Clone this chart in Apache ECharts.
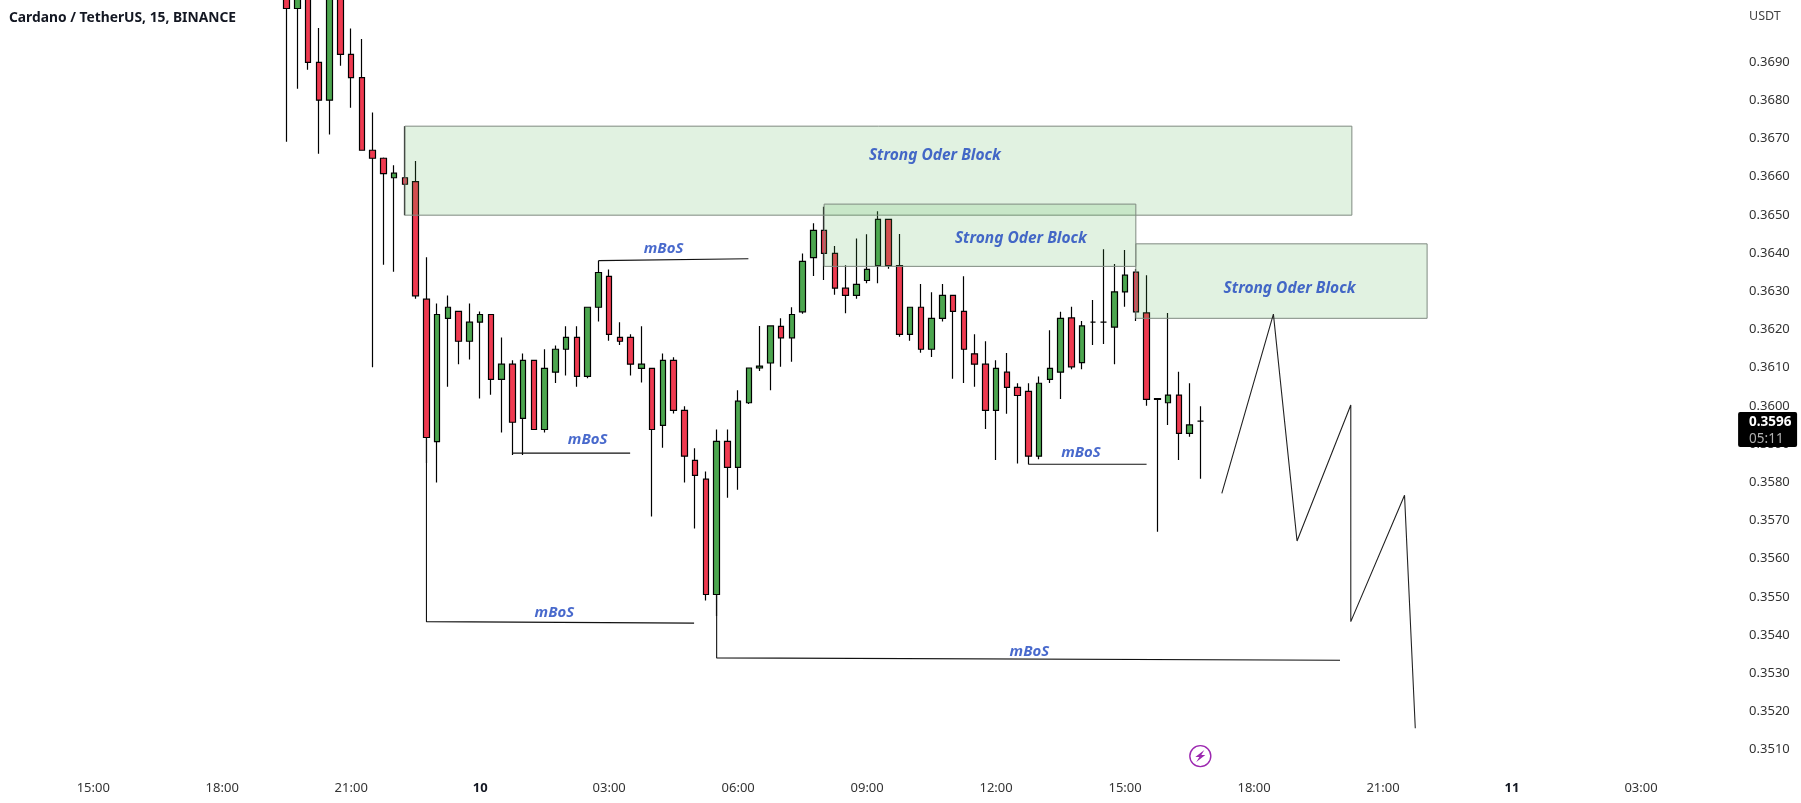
<!DOCTYPE html>
<html><head><meta charset="utf-8">
<style>html,body{margin:0;padding:0;background:#fff}#c{width:1801px;height:803px}</style>
<script src="https://cdn.jsdelivr.net/npm/echarts@6/dist/echarts.min.js"></script>
</head><body><div id="c"></div>
<script>
// bar offset 0 is the first visible candle; 12 bars = 3 hours
const timeTickLabels = ['15:00','18:00','21:00','10','03:00','06:00','09:00','12:00','15:00','18:00','21:00','11','03:00'];
const priceTicks = [0.351,0.352,0.353,0.354,0.355,0.356,0.357,0.358,0.359,0.360,0.361,0.362,0.363,0.364,0.365,0.366,0.367,0.368,0.369];
const opens = [0.37120,0.37040,0.37150,0.36899,0.36800,0.37100,0.36920,0.36859,0.36669,0.36648,0.36597,0.36597,0.36587,0.36279,0.35906,0.36229,0.36247,0.36169,0.36219,0.36239,0.36069,0.36109,0.35967,0.36119,0.35938,0.36088,0.36148,0.36179,0.36077,0.36258,0.36339,0.36179,0.36179,0.36098,0.36098,0.35949,0.36119,0.35988,0.35857,0.35808,0.35506,0.35907,0.35839,0.36008,0.36099,0.36112,0.36208,0.36178,0.36246,0.36388,0.36459,0.36399,0.36308,0.36289,0.36328,0.36367,0.36488,0.36367,0.36187,0.36258,0.36148,0.36229,0.36289,0.36247,0.36136,0.36109,0.35988,0.36088,0.36048,0.36038,0.35868,0.36069,0.36088,0.36230,0.36113,0.36219,0.36219,0.36206,0.36298,0.36350,0.36243,0.36019,0.36008,0.36028,0.35928,0.35960];
const closes = [0.37040,0.37100,0.36899,0.36800,0.37120,0.36920,0.36859,0.36669,0.36648,0.36608,0.36609,0.36580,0.36288,0.35917,0.36239,0.36258,0.36169,0.36219,0.36239,0.36069,0.36109,0.35957,0.36119,0.35938,0.36098,0.36148,0.36179,0.36077,0.36258,0.36349,0.36187,0.36169,0.36109,0.36109,0.35938,0.36119,0.35988,0.35868,0.35818,0.35506,0.35907,0.35839,0.36012,0.36099,0.36104,0.36209,0.36178,0.36239,0.36378,0.36459,0.36399,0.36308,0.36289,0.36318,0.36357,0.36488,0.36367,0.36187,0.36258,0.36148,0.36229,0.36289,0.36247,0.36148,0.36109,0.35988,0.36098,0.36048,0.36027,0.35868,0.36059,0.36098,0.36229,0.36102,0.36209,0.36219,0.36219,0.36298,0.36342,0.36246,0.36017,0.36017,0.36028,0.35928,0.35950,0.35960];
const lows = [0.36691,0.36830,0.36880,0.36660,0.36710,0.36890,0.36780,0.36669,0.36101,0.36369,0.36351,0.36499,0.36280,0.35850,0.35799,0.36050,0.36109,0.36121,0.36019,0.36029,0.35930,0.35871,0.35871,0.35938,0.35930,0.36060,0.36079,0.36050,0.36072,0.36221,0.36170,0.36159,0.36079,0.36061,0.35710,0.35890,0.35980,0.35799,0.35679,0.35490,0.35450,0.35759,0.35780,0.36005,0.36091,0.36041,0.36102,0.36115,0.36241,0.36340,0.36329,0.36291,0.36242,0.36280,0.36321,0.36321,0.36359,0.36181,0.36170,0.36139,0.36128,0.36221,0.36071,0.36060,0.36050,0.35939,0.35858,0.35979,0.35849,0.35847,0.35860,0.36060,0.36018,0.36096,0.36096,0.36159,0.36162,0.36109,0.36259,0.36222,0.36000,0.35670,0.35950,0.35858,0.35919,0.35809];
const highs = [0.37150,0.37120,0.37200,0.36989,0.37150,0.37150,0.36988,0.36960,0.36768,0.36650,0.36630,0.36732,0.36641,0.36389,0.36268,0.36289,0.36247,0.36268,0.36247,0.36239,0.36179,0.36119,0.36137,0.36119,0.36148,0.36158,0.36208,0.36208,0.36258,0.36380,0.36357,0.36219,0.36187,0.36208,0.36098,0.36137,0.36127,0.35999,0.35889,0.35828,0.35938,0.35938,0.36041,0.36099,0.36209,0.36209,0.36229,0.36258,0.36399,0.36478,0.36521,0.36418,0.36368,0.36438,0.36449,0.36509,0.36488,0.36450,0.36258,0.36319,0.36297,0.36319,0.36289,0.36339,0.36187,0.36169,0.36119,0.36138,0.36059,0.36059,0.36077,0.36198,0.36246,0.36259,0.36222,0.36277,0.36410,0.36371,0.36408,0.36358,0.36342,0.36020,0.36243,0.36089,0.36059,0.35999];
// zones: [first bar, last bar, upper price, lower price]
const zones = [[11,99.1,0.36732,0.36499],[50,79,0.36528,0.36365],[79,106.1,0.36424,0.36229]];
const zoneLabels = [[60.3,0.36654,'Strong Oder Block'],[68.3,0.36437,'Strong Oder Block'],[93.3,0.36308,'Strong Oder Block']];
const mbosLabels = [[35.06,0.36410,'mBoS'],[28,0.35910,'mBoS'],[24.9,0.35459,'mBoS'],[73.9,0.35876,'mBoS'],[69.1,0.35355,'mBoS']];
const mbosLine1 = [[13,0.35917],[13,0.35435],[37.9,0.35431]];
const mbosLine2 = [[40,0.35506],[40,0.35340],[98,0.35334]];
const mbosLine3 = [[29,0.36380],[42.95,0.36385]];
const mbosLine4 = [[21,0.35876],[31.95,0.35876]];
const mbosLine5 = [[69,0.35847],[80,0.35847]];
const projection = [[87,0.35771],[91.8,0.36240],[94,0.35646],[99,0.36002],[99,0.35435],[104,0.35766],[105,0.35156]];
const lastBar = 85, lastPrice = 0.3596, countdown = '05:11';
const eventMark = [85, 0.35083];

const UP = '#4ca64f', DOWN = '#ef3a50', INK = '#000000';
const BAR0 = 26, BARS = 162;
const categories = new Array(BARS).fill('');
timeTickLabels.forEach((t, i) => { categories[8 + i * 12] = t; });
const candleData = new Array(BAR0).fill(['-','-','-','-']).concat(opens.map((o, i) => [o, closes[i], lows[i], highs[i]]));
const lineSeries = (data, color) => ({
  type:'line', xAxisIndex:1, data, showSymbol:false, symbol:'none', silent:true, z:4,
  lineStyle:{color:color||'#111111', width:1.1}, animation:false
});
const FONT = '"Noto Sans", sans-serif';
const chart = echarts.init(document.getElementById('c'), null, {width:1801, height:803, renderer:'canvas'});
chart.setOption({
  animation:false, backgroundColor:'#ffffff',
  title:[
    {text:'Cardano / TetherUS, 15, BINANCE', left:9, top:11, padding:0, textStyle:{fontFamily:FONT, fontSize:13.8, fontWeight:'bold', color:'#131722'}},
    {text:'USDT', left:1749, top:10, padding:0, textStyle:{fontFamily:FONT, fontSize:12.5, fontWeight:'normal', color:'#444'}}
  ],
  grid:{left:1.9, top:0.88, width:1741.2, height:767.82, containLabel:false},
  xAxis:[
    {type:'category', data:categories, boundaryGap:true, axisLine:{show:false}, axisTick:{show:false}, splitLine:{show:false},
     axisLabel:{interval:(i, v) => v !== '', margin:13, fontFamily:FONT, fontSize:13, color:'#333', hideOverlap:false,
       formatter:v => /^\d\d$/.test(v) ? '{d|' + v + '}' : v,
       rich:{d:{fontFamily:FONT, fontSize:13, fontWeight:'bold', color:'#131722'}}}},
    {type:'value', show:false, min:-BAR0 - 0.5, max:BARS - BAR0 - 0.5, splitLine:{show:false}}
  ],
  yAxis:{type:'value', position:'right', min:0.3505, max:0.3706, scale:true, axisLine:{show:false}, axisTick:{show:false}, splitLine:{show:false},
    axisLabel:{customValues:priceTicks, margin:6, padding:[4,0,0,0], fontFamily:FONT, fontSize:13, color:'#333', formatter:v => v.toFixed(4)}},
  series:[
    {type:'candlestick', xAxisIndex:0, data:candleData, barWidth:6, z:2,
     itemStyle:{color:UP, color0:DOWN, borderColor:INK, borderColor0:INK, borderWidth:1.2}},
    {type:'custom', xAxisIndex:1, data:zones, z:3, silent:true, encode:{x:[0,1], y:[2,3]},
     renderItem:(p, api) => {
       const a = api.coord([api.value(0), api.value(2)]), b = api.coord([api.value(1), api.value(3)]);
       return {type:'rect', shape:{x:a[0], y:a[1], width:b[0]-a[0], height:b[1]-a[1]},
         style:{fill:'rgba(76,175,80,0.17)', stroke:'#7f8a80', lineWidth:1}};
     }},
    lineSeries(mbosLine1), lineSeries(mbosLine2), lineSeries(mbosLine3), lineSeries(mbosLine4), lineSeries(mbosLine5),
    lineSeries(projection, '#222222'),
    {type:'scatter', xAxisIndex:1, data:zoneLabels, symbolSize:0, z:6, silent:true,
     label:{show:true, position:'inside', align:'center', verticalAlign:'middle', formatter:p => p.value[2],
       fontFamily:FONT, fontSize:15.5, fontStyle:'italic', fontWeight:'bold', color:'#1a44bf'}},
    {type:'scatter', xAxisIndex:1, data:mbosLabels, symbolSize:0, z:6, silent:true,
     label:{show:true, position:'inside', align:'center', verticalAlign:'middle', formatter:p => p.value[2],
       fontFamily:FONT, fontSize:15, fontStyle:'italic', fontWeight:'bold', color:'#1a44bf'}},
    {type:'custom', xAxisIndex:1, data:[eventMark], z:6, silent:true,
     renderItem:(p, api) => {
       const c = api.coord([api.value(0), api.value(1)]);
       return {type:'group', x:c[0], y:c[1], children:[
         {type:'circle', shape:{cx:0, cy:0, r:10.5}, style:{fill:'#fff', stroke:'#9c27b0', lineWidth:1.4}},
         {type:'polygon', shape:{points:[[4,-6],[-5,1],[-1,1],[-4,6],[5,-1],[1,-1]]}, style:{fill:'#9c27b0'}}
       ]};
     }},
    {type:'custom', xAxisIndex:1, data:[[lastBar, lastPrice, countdown]], z:10, silent:true,
     renderItem:(p, api) => {
       const c = api.coord([api.value(0), api.value(1)]);
       const gridRight = p.coordSys.x + p.coordSys.width;
       const x = gridRight - 5, y = c[1] - 9;
       return {type:'group', children:[
         {type:'rect', shape:{x, y, width:59, height:35, r:2}, style:{fill:'#000'}},
         {type:'text', style:{x:x+11, y:y+10.5, text:lastPrice.toFixed(4), fill:'#fff', font:'bold 13.5px '+FONT, verticalAlign:'middle'}},
         {type:'text', style:{x:x+11, y:y+27.5, text:countdown, fill:'#b0b0b0', font:'13.5px '+FONT, verticalAlign:'middle'}}
       ]};
     }}
  ]
});
</script></body></html>
